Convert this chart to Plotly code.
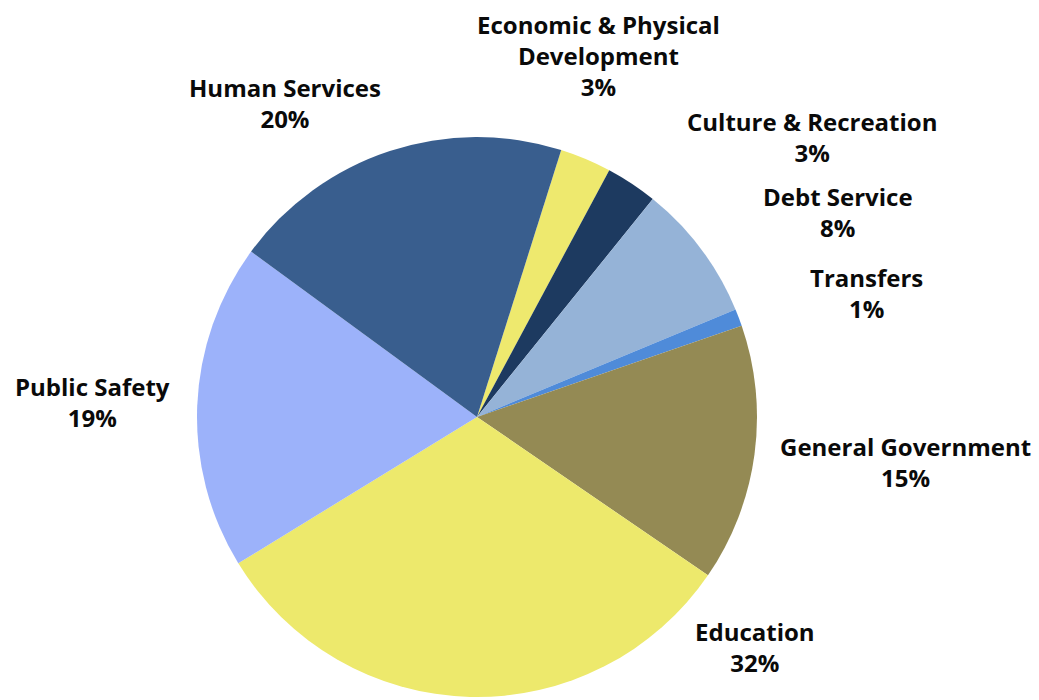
import plotly.graph_objects as go

# Budget shares by function, listed clockwise from the top of the pie
categories = [
    "Economic & Physical<br>Development",
    "Culture & Recreation",
    "Debt Service",
    "Transfers",
    "General Government",
    "Education",
    "Public Safety",
    "Human Services",
]
shares = [3, 3, 8, 1, 15, 32, 19, 20]
colors = ["#EEE96E", "#1D3A60", "#95B3D7", "#4F8BD9",
          "#948A54", "#EDE96C", "#9CB2FA", "#395E8E"]

# Label anchor points (pixels in the 1039x700 page), centred on each label block
label_xy = [
    (598, 56), (812, 137), (838, 212), (866, 293),
    (905, 462), (755, 647), (92, 402), (285, 103),
]

W, H = 1039, 700
cx, cy, r = 477, 417, 280

fig = go.Figure(go.Pie(
    labels=[c.replace("<br>", " ") for c in categories],
    values=shares,
    sort=False,
    direction="clockwise",
    rotation=17.5,
    marker=dict(colors=colors, line=dict(width=0)),
    textinfo="none",
    hoverinfo="label+percent",
    domain=dict(x=[(cx - r) / W, (cx + r) / W],
                y=[(H - cy - r) / H, (H - cy + r) / H]),
    showlegend=False,
))

for cat, val, (lx, ly) in zip(categories, shares, label_xy):
    fig.add_annotation(
        x=lx / W, y=1 - ly / H, xref="paper", yref="paper",
        text=f"<b>{cat}<br>{val}%</b>",
        showarrow=False, align="center",
        xanchor="center", yanchor="middle",
        font=dict(family="Open Sans", size=24, color="#0A0A0A"),
    )

fig.update_layout(
    width=W, height=H,
    margin=dict(l=0, r=0, t=0, b=0),
    paper_bgcolor="white",
    plot_bgcolor="white",
)

fig.write_html("out.html")
